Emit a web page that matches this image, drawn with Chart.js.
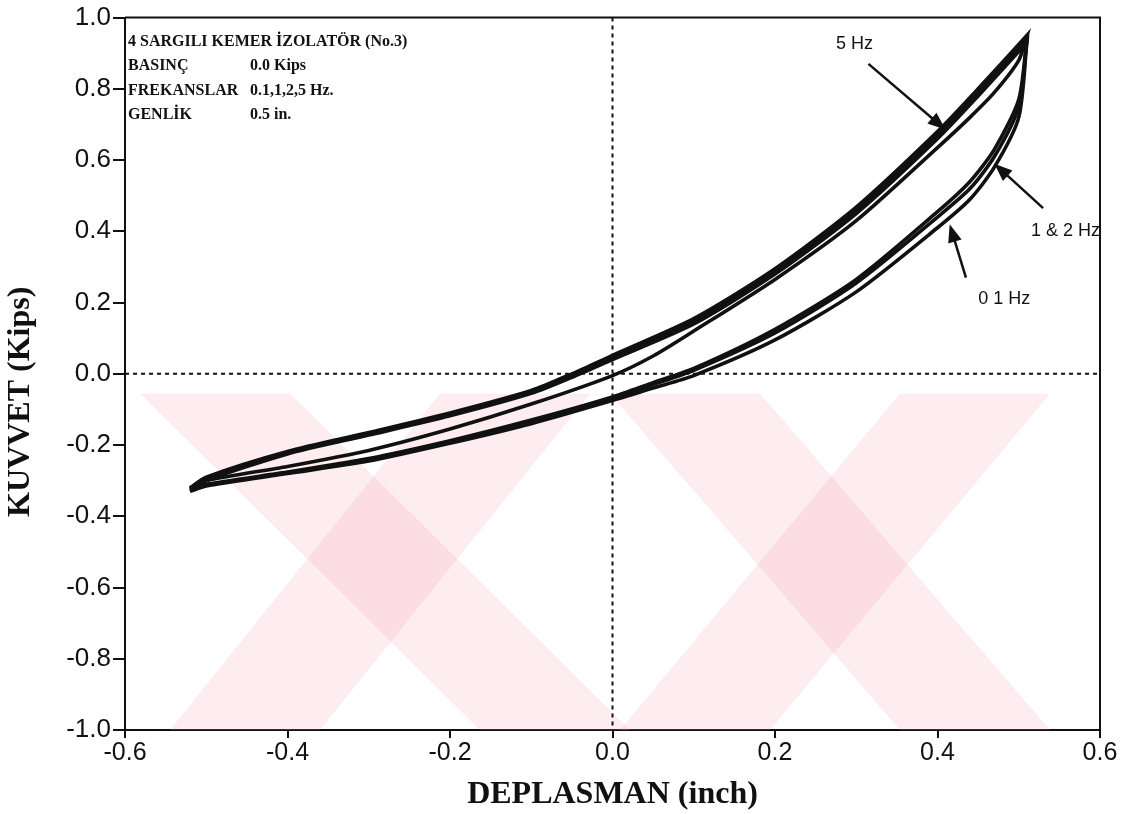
<!DOCTYPE html>
<html>
<head>
<meta charset="utf-8">
<script src="https://cdn.jsdelivr.net/npm/chart.js@4"></script>
<style>
  html, body { margin: 0; padding: 0; background: #fff; }
  #wrap { width: 1137px; height: 814px; position: relative; }
</style>
</head>
<body>
<div id="wrap"><canvas id="grafica" width="1137" height="814"></canvas></div>
<script>
// eje x de cada rama (pulgadas)
let xSuperior = [-0.52, -0.5, -0.4, -0.3, -0.2, -0.1, -0.05, 0, 0.1, 0.2, 0.3, 0.4, 0.45, 0.51];
let xInferior = [0.51, 0.5, 0.47, 0.44, 0.4, 0.3, 0.2, 0.1, 0.05, 0, -0.1, -0.2, -0.3, -0.4, -0.5, -0.52];

// fuerza (kips) por frecuencia
let sup01 = [-0.33, -0.3, -0.225, -0.172, -0.118, -0.055, -0.01, 0.04, 0.14, 0.28, 0.45, 0.66, 0.78, 0.93];
let inf01 = [0.93, 0.72, 0.58, 0.49, 0.41, 0.23, 0.095, -0.005, -0.04, -0.075, -0.14, -0.195, -0.245, -0.28, -0.315, -0.33];
let sup1 = [-0.325, -0.295, -0.222, -0.17, -0.115, -0.052, -0.006, 0.045, 0.145, 0.285, 0.455, 0.665, 0.785, 0.935];
let inf1 = [0.935, 0.75, 0.61, 0.52, 0.44, 0.255, 0.115, 0.01, -0.03, -0.068, -0.135, -0.19, -0.24, -0.278, -0.312, -0.325];
let sup2 = [-0.322, -0.292, -0.22, -0.168, -0.112, -0.05, -0.004, 0.048, 0.148, 0.288, 0.46, 0.67, 0.79, 0.94];
let inf2 = [0.94, 0.77, 0.63, 0.54, 0.455, 0.265, 0.125, 0.015, -0.025, -0.065, -0.13, -0.188, -0.238, -0.276, -0.31, -0.322];
let sup5 = [-0.32, -0.29, -0.218, -0.165, -0.11, -0.047, 0.0, 0.052, 0.155, 0.295, 0.468, 0.68, 0.8, 0.95];
let inf5 = [0.95, 0.88, 0.79, 0.72, 0.635, 0.43, 0.265, 0.12, 0.05, -0.005, -0.085, -0.155, -0.215, -0.26, -0.3, -0.32];

let ticksX = [-0.6, -0.4, -0.2, 0.0, 0.2, 0.4, 0.6];
let ticksY = [-1.0, -0.8, -0.6, -0.4, -0.2, 0.0, 0.2, 0.4, 0.6, 0.8, 1.0];

let bloqueInfo = [
    ["4 SARGILI KEMER İZOLATÖR (No.3)", ""],
    ["BASINÇ", "0.0 Kips"],
    ["FREKANSLAR", "0.1,1,2,5 Hz."],
    ["GENLİK", "0.5 in."]
];

// etiquetas con flecha: texto (x,y) y flecha desde -> hasta, en unidades de datos
let etiquetas = [
    { texto: "5 Hz", tx: 0.275, ty: 0.925, desde: [0.315, 0.87], hasta: [0.41, 0.685] },
    { texto: "1 & 2 Hz", tx: 0.515, ty: 0.40, desde: [0.53, 0.465], hasta: [0.47, 0.59] },
    { texto: "0 1 Hz", tx: 0.45, ty: 0.21, desde: [0.435, 0.27], hasta: [0.415, 0.42] }
];

function lazo(sup, inf) {
    let puntos = [];
    for (let i = 0; i < xSuperior.length; i++) puntos.push({ x: xSuperior[i], y: sup[i] });
    for (let i = 0; i < xInferior.length; i++) puntos.push({ x: xInferior[i], y: inf[i] });
    return puntos;
}

function serie(nombre, sup, inf) {
    return {
        label: nombre,
        data: lazo(sup, inf),
        showLine: true,
        borderColor: "#111",
        borderWidth: 3.6,
        pointRadius: 0,
        tension: 0.25,
        fill: false
    };
}

function flecha(ctx, x1, y1, x2, y2) {
    let ang = Math.atan2(y2 - y1, x2 - x1);
    ctx.beginPath();
    ctx.moveTo(x1, y1);
    ctx.lineTo(x2 - 10 * Math.cos(ang), y2 - 10 * Math.sin(ang));
    ctx.stroke();
    ctx.beginPath();
    ctx.moveTo(x2, y2);
    ctx.lineTo(x2 - 18 * Math.cos(ang) + 7 * Math.sin(ang), y2 - 18 * Math.sin(ang) - 7 * Math.cos(ang));
    ctx.lineTo(x2 - 18 * Math.cos(ang) - 7 * Math.sin(ang), y2 - 18 * Math.sin(ang) + 7 * Math.cos(ang));
    ctx.closePath();
    ctx.fill();
}

let decorado = {
    id: "decorado",
    beforeDatasetsDraw(chart) {
        let ctx = chart.ctx;
        let a = chart.chartArea;
        let sx = chart.scales.x, sy = chart.scales.y;
        // marca de agua rosada
        let yTop = sy.getPixelForValue(-0.055), yBot = a.bottom;
        ctx.save();
        ctx.beginPath();
        ctx.rect(a.left, yTop, a.right - a.left, yBot - yTop);
        ctx.clip();
        ctx.fillStyle = "rgba(245, 160, 178, 0.2)";
        let bandas = [
            [140, 290, 480, 630], [440, 590, 170, 320],
            [610, 760, 900, 1050], [900, 1050, 620, 770]
        ];
        for (let b of bandas) {
            ctx.beginPath();
            ctx.moveTo(b[0], yTop);
            ctx.lineTo(b[1], yTop);
            ctx.lineTo(b[3], yBot);
            ctx.lineTo(b[2], yBot);
            ctx.closePath();
            ctx.fill();
        }
        ctx.restore();

        // lineas de cero punteadas
        ctx.save();
        ctx.strokeStyle = "#111";
        ctx.lineWidth = 2;
        ctx.setLineDash([4, 4]);
        let y0 = sy.getPixelForValue(0), x0 = sx.getPixelForValue(0);
        ctx.beginPath();
        ctx.moveTo(a.left, y0); ctx.lineTo(a.right, y0);
        ctx.moveTo(x0, a.top); ctx.lineTo(x0, a.bottom);
        ctx.stroke();
        ctx.setLineDash([]);
        // marco superior y derecho
        ctx.lineWidth = 2;
        ctx.beginPath();
        ctx.moveTo(a.left, a.top); ctx.lineTo(a.right, a.top); ctx.lineTo(a.right, a.bottom);
        ctx.stroke();
        ctx.restore();
    },
    afterDatasetsDraw(chart) {
        let ctx = chart.ctx;
        let a = chart.chartArea;
        let sx = chart.scales.x, sy = chart.scales.y;
        ctx.save();
        ctx.fillStyle = "#111";
        ctx.strokeStyle = "#111";
        ctx.textBaseline = "middle";
        ctx.textAlign = "left";
        ctx.font = "bold 16px 'Liberation Serif', serif";
        for (let i = 0; i < bloqueInfo.length; i++) {
            let y = a.top + 24 + i * 24.5;
            ctx.fillText(bloqueInfo[i][0], a.left + 3, y);
            if (bloqueInfo[i][1]) ctx.fillText(bloqueInfo[i][1], a.left + 125, y);
        }
        ctx.font = "18px 'Liberation Sans', Arial, sans-serif";
        ctx.lineWidth = 2.5;
        for (let e of etiquetas) {
            ctx.fillText(e.texto, sx.getPixelForValue(e.tx), sy.getPixelForValue(e.ty));
            flecha(ctx, sx.getPixelForValue(e.desde[0]), sy.getPixelForValue(e.desde[1]),
                sx.getPixelForValue(e.hasta[0]), sy.getPixelForValue(e.hasta[1]));
        }
        ctx.restore();
    }
};

let miCanvas = document.getElementById("grafica").getContext("2d");
let chartConfig = {
    type: "scatter",
    data: {
        datasets: [
            serie("0.1 Hz", sup01, inf01),
            serie("1 Hz", sup1, inf1),
            serie("2 Hz", sup2, inf2),
            serie("5 Hz", sup5, inf5)
        ]
    },
    options: {
        responsive: false,
        animation: false,
        layout: { padding: { top: 14, right: 37, left: 0, bottom: 0 } },
        plugins: { legend: { display: false }, tooltip: { enabled: false } },
        scales: {
            x: {
                type: "linear",
                min: -0.6, max: 0.6,
                afterBuildTicks: s => { s.ticks = ticksX.map(v => ({ value: v })); },
                afterFit: s => { s.height = 84; },
                grid: { display: true, drawOnChartArea: false, drawTicks: true, tickLength: 8, color: "#111", lineWidth: 2 },
                border: { display: true, color: "#111", width: 2 },
                ticks: {
                    color: "#111", padding: 0,
                    font: { family: "'Liberation Sans', Arial, sans-serif", size: 25 },
                    callback: v => v.toFixed(1)
                },
                title: {
                    display: true, text: "DEPLASMAN (inch)", color: "#111",
                    font: { family: "'Liberation Serif', serif", size: 32, weight: "bold" },
                    padding: { top: 0, bottom: 0 }
                }
            },
            y: {
                type: "linear",
                min: -1, max: 1,
                afterBuildTicks: s => { s.ticks = ticksY.map(v => ({ value: v })); },
                afterFit: s => { s.width = 125; },
                grid: { display: true, drawOnChartArea: false, drawTicks: true, tickLength: 12, color: "#111", lineWidth: 2 },
                border: { display: true, color: "#111", width: 2 },
                ticks: {
                    color: "#111", padding: 2,
                    font: { family: "'Liberation Sans', Arial, sans-serif", size: 26 },
                    callback: v => v.toFixed(1)
                },
                title: {
                    display: true,
                    // espacios finales para bajar un poco el titulo, como en el original
                    text: "KUVVET (Kips)\u00A0\u00A0\u00A0\u00A0\u00A0\u00A0\u00A0",
                    color: "#111",
                    font: { family: "'Liberation Serif', serif", size: 32, weight: "bold" },
                    padding: { top: 2, bottom: 6 }
                }
            }
        }
    },
    plugins: [decorado]
};

let chart = new Chart(miCanvas, chartConfig);
</script>
</body>
</html>
